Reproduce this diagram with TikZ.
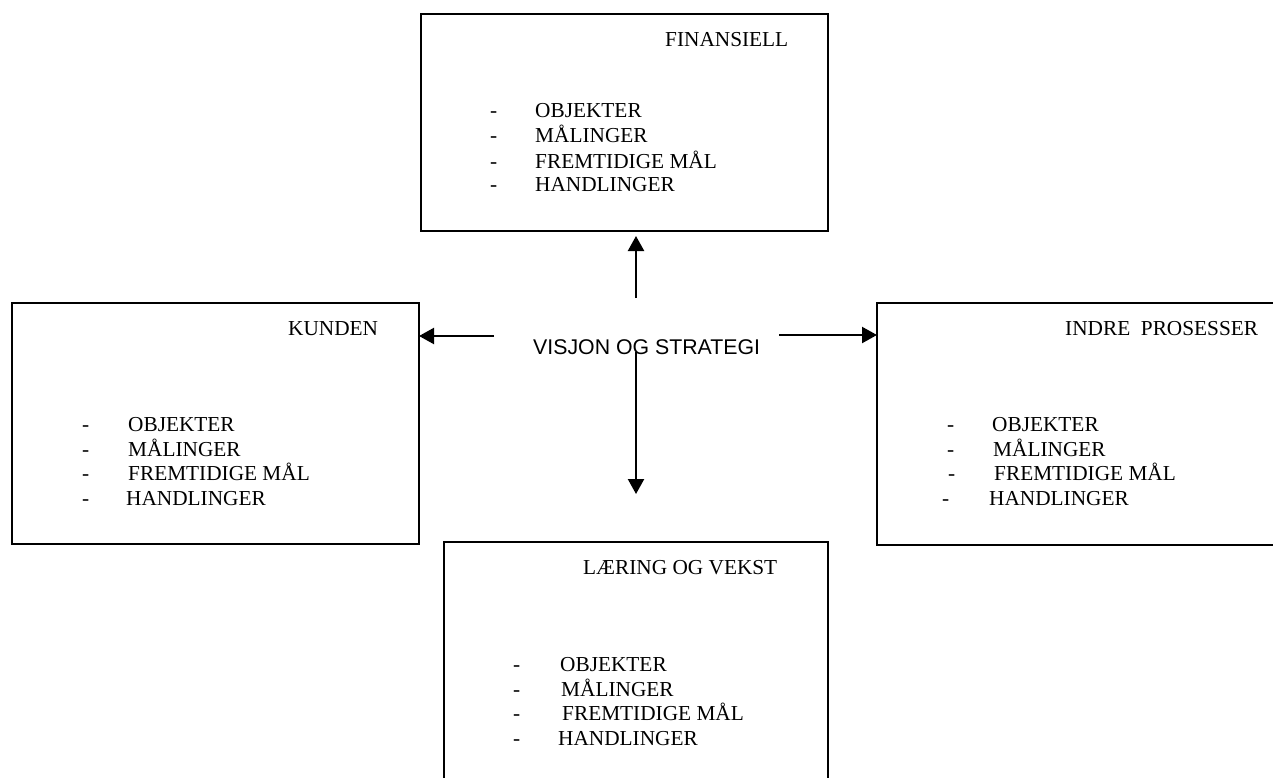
\documentclass[tikz,border=0pt]{standalone}
\usepackage{fontspec}
\setmainfont{Liberation Serif}
\newfontfamily\arialfont{Liberation Sans}
\usetikzlibrary{arrows.meta}
\begin{document}
\begin{tikzpicture}[x=1pt,y=-1pt,
  panel/.style={draw, line width=1.8pt, anchor=north west, inner sep=0pt, outer sep=0pt},
  txt/.style={anchor=base west, inner sep=0pt, font=\fontsize{21.3}{24.7}\selectfont},
  centretxt/.style={anchor=base west, inner sep=0pt, font=\arialfont\fontsize{21.3}{24.7}\selectfont},
  arr/.style={line width=2.2pt, -{Triangle[length=15pt,width=16pt]}}]
\clip (0,0) rectangle (1273,778);
\fill[white] (0,0) rectangle (1273,778);

% the four perspective panels
\node[panel, minimum width=407pt, minimum height=217pt] (fin) at (421,14) {};
\node[panel, minimum width=407pt, minimum height=241pt] (kund) at (12,303) {};
\node[panel, minimum width=420pt, minimum height=242pt] (indre) at (877,303) {};
\node[panel, minimum width=384pt, minimum height=260pt] (laer) at (444,542) {};

% FINANSIELL
\node[txt] (finT) at (665,47) {FINANSIELL};
\node[txt] (finD1) at (490,118) {-};
\node[txt] (finD2) at (490,143) {-};
\node[txt] (finD3) at (490,168) {-};
\node[txt] (finD4) at (490,192) {-};
\node[txt] (finI1) at (535,118) {OBJEKTER};
\node[txt] (finI2) at (535,143) {MÅLINGER};
\node[txt] (finI3) at (535,168) {FREMTIDIGE MÅL};
\node[txt] (finI4) at (535,192) {HANDLINGER};

% KUNDEN
\node[txt] (kundT) at (288,335) {KUNDEN};
\node[txt] (kundD1) at (82,431) {-};
\node[txt] (kundD2) at (82,456) {-};
\node[txt] (kundD3) at (82,480) {-};
\node[txt] (kundD4) at (82,505) {-};
\node[txt] (kundI1) at (128,431) {OBJEKTER};
\node[txt] (kundI2) at (128,456) {MÅLINGER};
\node[txt] (kundI3) at (128,480) {FREMTIDIGE MÅL};
\node[txt] (kundI4) at (126,505) {HANDLINGER};

% INDRE PROSESSER
\node[txt] (indreT) at (1065,335) {INDRE\ \ PROSESSER};
\node[txt] (indreD1) at (947,431) {-};
\node[txt] (indreD2) at (947,456) {-};
\node[txt] (indreD3) at (948,480) {-};
\node[txt] (indreD4) at (942,505) {-};
\node[txt] (indreI1) at (992,431) {OBJEKTER};
\node[txt] (indreI2) at (993,456) {MÅLINGER};
\node[txt] (indreI3) at (994,480) {FREMTIDIGE MÅL};
\node[txt] (indreI4) at (989,505) {HANDLINGER};

% LÆRING OG VEKST
\node[txt] (laerT) at (583,574) {LÆRING OG VEKST};
\node[txt] (laerD1) at (513,671) {-};
\node[txt] (laerD2) at (513,696) {-};
\node[txt] (laerD3) at (513,720) {-};
\node[txt] (laerD4) at (513,745) {-};
\node[txt] (laerI1) at (560,671) {OBJEKTER};
\node[txt] (laerI2) at (561,696) {MÅLINGER};
\node[txt] (laerI3) at (562,720) {FREMTIDIGE MÅL};
\node[txt] (laerI4) at (558,745) {HANDLINGER};

% centre
\node[centretxt] (vis) at (533,354) {VISJON OG STRATEGI};

% arrows out of the centre
\coordinate (upS) at (636,298);
\coordinate (leftS) at (494,336);
\coordinate (rightS) at (779,335);
\coordinate (downS) at (636,352);
\coordinate (downE) at (636,494);
\draw[arr, shorten >=5pt] (upS) -- (upS |- fin.south);
\draw[arr] (leftS) -- (leftS -| kund.east);
\draw[arr] (rightS) -- (rightS -| indre.west);
\draw[arr] (downS) -- (downE);
\end{tikzpicture}
\end{document}
